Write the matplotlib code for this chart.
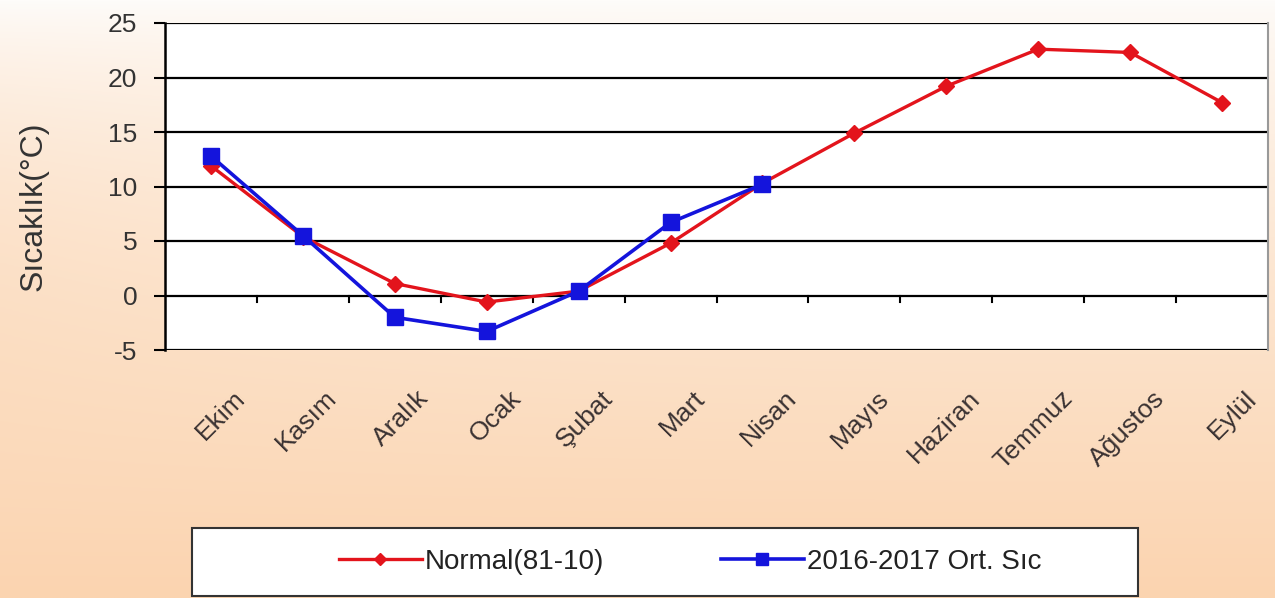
import matplotlib
matplotlib.use("Agg")
import matplotlib.pyplot as plt
import matplotlib.transforms as mtransforms
from matplotlib.patches import Rectangle
import numpy as np

plt.rcParams['font.family'] = ['Liberation Sans', 'DejaVu Sans']
plt.rcParams['axes.unicode_minus'] = False

# veriler
aylar = ['Ekim', 'Kasım', 'Aralık', 'Ocak', 'Şubat', 'Mart', 'Nisan',
         'Mayıs', 'Haziran', 'Temmuz', 'Ağustos', 'Eylül']
normal = [11.9, 5.4, 1.1, -0.6, 0.4, 4.8, 10.3, 14.9, 19.2, 22.6, 22.3, 17.7]
donem = [12.8, 5.5, -2.0, -3.3, 0.4, 6.7, 10.2]
yticks = [-5, 0, 5, 10, 15, 20, 25]

fig = plt.figure(figsize=(12.75, 5.98), dpi=100)

# arka plan gradyan
bg = fig.add_axes([0, 0, 1, 1], zorder=-5)
h, w = 300, 200
t = np.linspace(0, 1, h)[:, None] ** 0.75
tx = np.linspace(1, 0, w)[None, :] ** 3 * 0.3
tt = np.clip(t + tx * (1 - t) * np.sin(np.pi * np.linspace(0, 1, h))[:, None], 0, 1)
ust = np.array([254, 252, 250]) / 255
alt = np.array([251, 212, 176]) / 255
img = ust[None, None, :] * (1 - tt[..., None]) + alt[None, None, :] * tt[..., None]
bg.imshow(img, aspect='auto', extent=[0, 1, 0, 1])
bg.axis('off')

ax = fig.add_axes([165 / 1275, 1 - 350 / 598, 1103 / 1275, 327 / 598])
ax.set_facecolor('white')
x = np.arange(len(aylar))

ax.plot(x, normal, color='#e3141c', lw=2.4, marker='D', ms=8,
        label='Normal(81-10)', zorder=3)
ax.plot(x[:len(donem)], donem, color='#1414dc', lw=2.6, marker='s', ms=11,
        label='2016-2017 Ort. Sıc', zorder=4)

ax.set_xlim(-0.5, len(aylar) - 0.5)
ax.set_ylim(-5, 25)
ax.set_yticks(yticks)
ax.tick_params(axis='y', labelsize=19, length=8, width=1.5, direction='out',
               pad=12, colors='black', labelcolor='#333333')
for v in yticks:
    ax.axhline(v, color='black', lw=1.6, zorder=1)

# x ekseni 0 çizgisinde, kategori sınırlarında küçük çizgiler
for b in np.arange(0.5, len(aylar) - 0.5, 1):
    ax.plot([b, b], [0, -0.6], color='black', lw=1.5, zorder=2)

ax.set_xticks(x)
ax.set_xticklabels(aylar, rotation=45, ha='right', rotation_mode='anchor',
                   fontsize=19, color='#3a3232')
ax.tick_params(axis='x', length=0, pad=26)
off = mtransforms.ScaledTranslation(22 / 100, 0, fig.dpi_scale_trans)
for lab in ax.get_xticklabels():
    lab.set_transform(lab.get_transform() + off)

ax.spines['top'].set_visible(False)
ax.spines['bottom'].set_visible(False)
ax.spines['left'].set_linewidth(1.8)
ax.spines['right'].set_color('#999999')
ax.spines['right'].set_linewidth(1.5)

ax.set_ylabel('Sıcaklık(°C)', fontsize=23, color='#333333')
ax.yaxis.set_label_coords(-0.106, 0.44)

# lejant kutusu
fig.patches.append(Rectangle((192 / 1275, 1 - 596 / 598), 946 / 1275, 68 / 598,
                             transform=fig.transFigure, facecolor='white',
                             edgecolor='#333333', lw=1.5, zorder=1))
fig.legend(loc='center', bbox_to_anchor=(690 / 1275, 1 - 562 / 598), ncol=2,
           frameon=False, fontsize=20, handlelength=3.0, handletextpad=0.1,
           columnspacing=4.2, markerscale=0.75, labelcolor='#222222')

fig.savefig('out.png', dpi=100)
